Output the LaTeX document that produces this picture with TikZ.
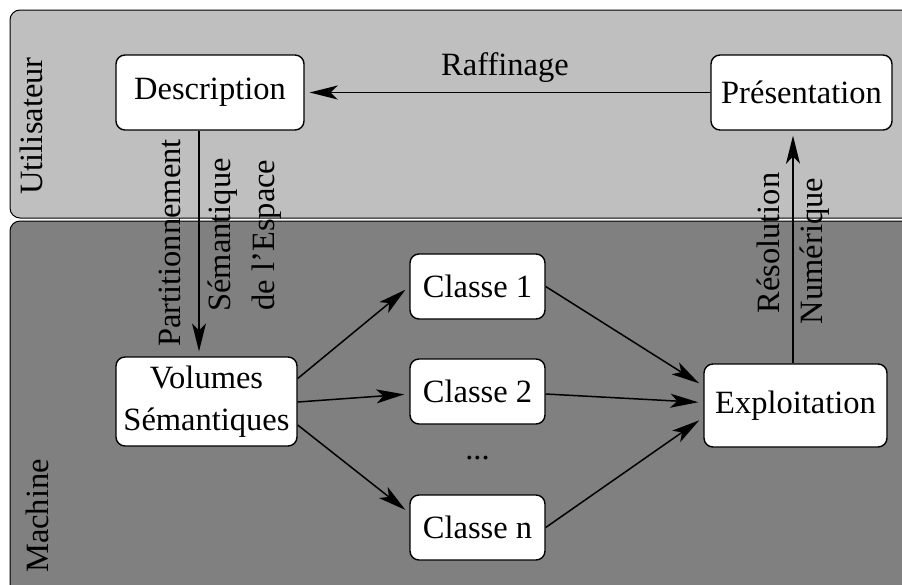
\documentclass[tikz,border=0pt]{standalone}
\usepackage{fontspec}
\setmainfont{Liberation Serif}
\usetikzlibrary{arrows.meta,calc}
\definecolor{topgray}{RGB}{191,191,191}
\definecolor{botgray}{RGB}{128,128,128}
\tikzset{
  box/.style={draw, fill=white, rounded corners=9pt, line width=1.4pt, inner sep=0pt, align=center},
  arr/.style={-{Stealth[length=28pt,width=14pt,inset=7pt]}, line width=1.5pt, shorten >=5pt},
  panel/.style={draw, rounded corners=10pt, line width=1pt},
  lbl/.style={inner sep=0pt, align=center}
}
\begin{document}
\begin{tikzpicture}[x=1pt, y=-1pt, font=\fontsize{32.5}{44}\selectfont]
\useasboundingbox (0,0) rectangle (902,584);
\clip (0,0) rectangle (902,584);
% panels
\draw[panel, fill=topgray] (10,10) rectangle (920,218);
\draw[panel, fill=botgray] (10,221) rectangle (920,600);
\node[lbl, rotate=90] (user) at (31,126) {Utilisateur};
\node[lbl, rotate=90] (mach) at (37,516) {Machine};
% boxes
\node[box, minimum width=188pt, minimum height=75pt] (desc) at (210,92.5) {Description};
\node[box, minimum width=181pt, minimum height=75pt] (pres) at (801.5,92.5) {Présentation};
\node[box, minimum width=181pt, minimum height=89pt, font=\fontsize{32.5}{42}\selectfont] (vol) at (206.5,401.5) {Volumes\\Sémantiques};
\node[box, minimum width=135pt, minimum height=65pt] (c1) at (477.5,286.5) {Classe 1};
\node[box, minimum width=135pt, minimum height=65pt] (c2) at (477.5,391.5) {Classe 2};
\node[box, minimum width=135pt, minimum height=65pt] (c3) at (477.5,527.5) {Classe n};
\node[lbl] (dots) at (477.5,458) {...};
\node[box, minimum width=183pt, minimum height=83pt] (expl) at (795.5,405.5) {Exploitation};
% arrows
\draw[arr] (pres.west) -- (desc.east);
\node[lbl] (raff) at (505,68) {Raffinage};
\draw[arr] ([xshift=-11pt]desc.south) -- ([xshift=-11pt]desc.south |- vol.north);
\node[lbl, rotate=90] (part) at (170,243) {Partitionnement};
\node[lbl, rotate=90] (sem) at (245,235) {Sémantique\\de l’Espace};
\draw[arr] ($(vol.east)+(0,-23)$) -- (c1.west);
\draw[arr] ($(vol.east)+(0,0.5)$) -- ($(c2.west)+(0,2.5)$);
\draw[arr] ($(vol.east)+(0,23.5)$) -- ($(c3.west)+(0,-14.5)$);
\draw[arr] (c1.east) -- ($(expl.west)+(0,-19.5)$);
\draw[arr] ($(c2.east)+(0,2.5)$) -- ($(expl.west)+(0,-3)$);
\draw[arr] (c3.east) -- ($(expl.west)+(0,12)$);
\draw[arr] ([xshift=-2.5pt]expl.north) -- ([xshift=-2.5pt]expl.north |- pres.south);
\node[lbl, rotate=90] (reso) at (768,243) {Résolution};
\node[lbl, rotate=90] (num) at (815,251) {Numérique};
\end{tikzpicture}
\end{document}
